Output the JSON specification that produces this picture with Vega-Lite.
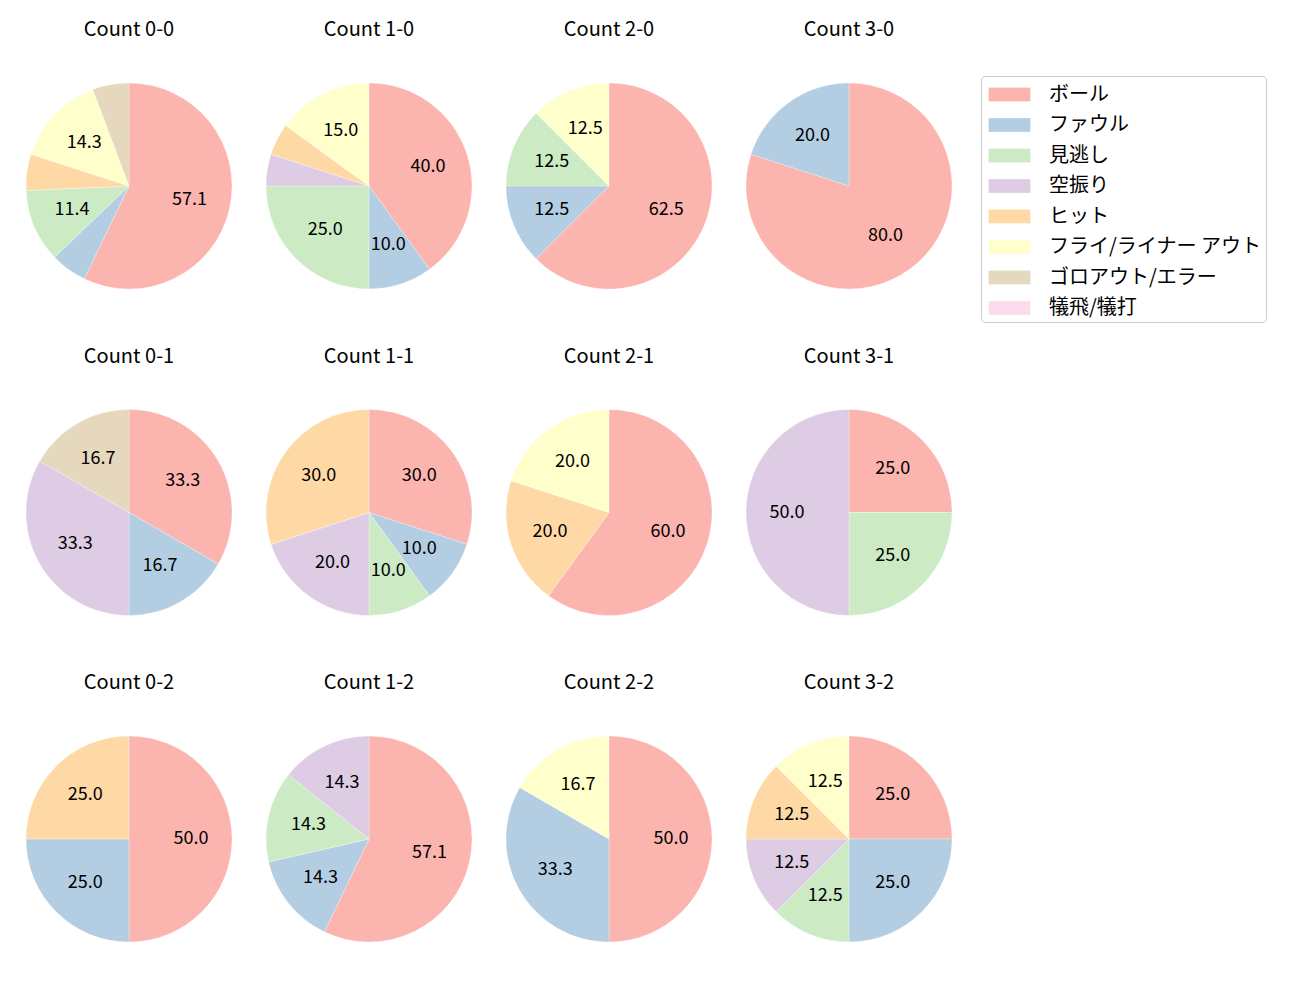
{
  "$schema": "https://vega.github.io/schema/vega-lite/v6.json",
  "padding": {"left": 25, "top": 20, "right": 5, "bottom": 5},
  "background": "white",
  "config": {
    "font": "Noto Sans CJK JP",
    "view": {"stroke": null},
    "arc": {"stroke": "white", "strokeWidth": 0.3}
  },
  "data": {"values": [
    {"c": "Count 0-0", "o": 1, "t": "ボール", "k": 1, "p": 57.14},
    {"c": "Count 0-0", "o": 1, "t": "ファウル", "k": 2, "p": 5.71},
    {"c": "Count 0-0", "o": 1, "t": "見逃し", "k": 3, "p": 11.43},
    {"c": "Count 0-0", "o": 1, "t": "ヒット", "k": 5, "p": 5.71},
    {"c": "Count 0-0", "o": 1, "t": "フライ/ライナー アウト", "k": 6, "p": 14.29},
    {"c": "Count 0-0", "o": 1, "t": "ゴロアウト/エラー", "k": 7, "p": 5.71},
    {"c": "Count 1-0", "o": 2, "t": "ボール", "k": 1, "p": 40.0},
    {"c": "Count 1-0", "o": 2, "t": "ファウル", "k": 2, "p": 10.0},
    {"c": "Count 1-0", "o": 2, "t": "見逃し", "k": 3, "p": 25.0},
    {"c": "Count 1-0", "o": 2, "t": "空振り", "k": 4, "p": 5.0},
    {"c": "Count 1-0", "o": 2, "t": "ヒット", "k": 5, "p": 5.0},
    {"c": "Count 1-0", "o": 2, "t": "フライ/ライナー アウト", "k": 6, "p": 15.0},
    {"c": "Count 2-0", "o": 3, "t": "ボール", "k": 1, "p": 62.5},
    {"c": "Count 2-0", "o": 3, "t": "ファウル", "k": 2, "p": 12.5},
    {"c": "Count 2-0", "o": 3, "t": "見逃し", "k": 3, "p": 12.5},
    {"c": "Count 2-0", "o": 3, "t": "フライ/ライナー アウト", "k": 6, "p": 12.5},
    {"c": "Count 3-0", "o": 4, "t": "ボール", "k": 1, "p": 80.0},
    {"c": "Count 3-0", "o": 4, "t": "ファウル", "k": 2, "p": 20.0},
    {"c": "Count 0-1", "o": 5, "t": "ボール", "k": 1, "p": 33.33},
    {"c": "Count 0-1", "o": 5, "t": "ファウル", "k": 2, "p": 16.67},
    {"c": "Count 0-1", "o": 5, "t": "空振り", "k": 4, "p": 33.33},
    {"c": "Count 0-1", "o": 5, "t": "ゴロアウト/エラー", "k": 7, "p": 16.67},
    {"c": "Count 1-1", "o": 6, "t": "ボール", "k": 1, "p": 30.0},
    {"c": "Count 1-1", "o": 6, "t": "ファウル", "k": 2, "p": 10.0},
    {"c": "Count 1-1", "o": 6, "t": "見逃し", "k": 3, "p": 10.0},
    {"c": "Count 1-1", "o": 6, "t": "空振り", "k": 4, "p": 20.0},
    {"c": "Count 1-1", "o": 6, "t": "ヒット", "k": 5, "p": 30.0},
    {"c": "Count 2-1", "o": 7, "t": "ボール", "k": 1, "p": 60.0},
    {"c": "Count 2-1", "o": 7, "t": "ヒット", "k": 5, "p": 20.0},
    {"c": "Count 2-1", "o": 7, "t": "フライ/ライナー アウト", "k": 6, "p": 20.0},
    {"c": "Count 3-1", "o": 8, "t": "ボール", "k": 1, "p": 25.0},
    {"c": "Count 3-1", "o": 8, "t": "見逃し", "k": 3, "p": 25.0},
    {"c": "Count 3-1", "o": 8, "t": "空振り", "k": 4, "p": 50.0},
    {"c": "Count 0-2", "o": 9, "t": "ボール", "k": 1, "p": 50.0},
    {"c": "Count 0-2", "o": 9, "t": "ファウル", "k": 2, "p": 25.0},
    {"c": "Count 0-2", "o": 9, "t": "ヒット", "k": 5, "p": 25.0},
    {"c": "Count 1-2", "o": 10, "t": "ボール", "k": 1, "p": 57.14},
    {"c": "Count 1-2", "o": 10, "t": "ファウル", "k": 2, "p": 14.29},
    {"c": "Count 1-2", "o": 10, "t": "見逃し", "k": 3, "p": 14.29},
    {"c": "Count 1-2", "o": 10, "t": "空振り", "k": 4, "p": 14.29},
    {"c": "Count 2-2", "o": 11, "t": "ボール", "k": 1, "p": 50.0},
    {"c": "Count 2-2", "o": 11, "t": "ファウル", "k": 2, "p": 33.33},
    {"c": "Count 2-2", "o": 11, "t": "フライ/ライナー アウト", "k": 6, "p": 16.67},
    {"c": "Count 3-2", "o": 12, "t": "ボール", "k": 1, "p": 25.0},
    {"c": "Count 3-2", "o": 12, "t": "ファウル", "k": 2, "p": 25.0},
    {"c": "Count 3-2", "o": 12, "t": "見逃し", "k": 3, "p": 12.5},
    {"c": "Count 3-2", "o": 12, "t": "空振り", "k": 4, "p": 12.5},
    {"c": "Count 3-2", "o": 12, "t": "ヒット", "k": 5, "p": 12.5},
    {"c": "Count 3-2", "o": 12, "t": "フライ/ライナー アウト", "k": 6, "p": 12.5}
  ]},
  "facet": {
    "field": "c",
    "type": "nominal",
    "sort": {"field": "o", "op": "min"},
    "title": null,
    "header": {"labelFontSize": 20, "labelColor": "#000000", "labelPadding": 42, "labelFont": "Noto Sans CJK JP"}
  },
  "columns": 4,
  "spacing": {"row": 56.5, "column": 32},
  "spec": {
    "width": 206,
    "height": 206,
    "encoding": {
      "theta": {"field": "p", "type": "quantitative", "stack": true},
      "order": {"field": "k", "type": "quantitative", "sort": "ascending"}
    },
    "layer": [
      {
        "mark": {"type": "arc"},
        "encoding": {
          "color": {
            "field": "t",
            "type": "nominal",
            "title": null,
            "scale": {
              "domain": ["ボール", "ファウル", "見逃し", "空振り", "ヒット", "フライ/ライナー アウト", "ゴロアウト/エラー", "犠飛/犠打"],
              "range": ["#fbb4ae", "#b3cde3", "#ccebc5", "#decbe4", "#fed9a6", "#ffffcc", "#e5d8bd", "#fddaec"]
            },
            "legend": {
              "orient": "none",
              "legendX": 955,
              "legendY": -7,
              "padding": 4,
              "strokeColor": "#cccccc",
              "cornerRadius": 4,
              "fillColor": "white",
              "symbolType": "M-0.786,-0.5H2.214V0.5H-0.786Z",
              "symbolSize": 784,
              "symbolStrokeWidth": 0,
              "symbolOpacity": 1,
              "labelFontSize": 20,
              "labelColor": "#000000",
              "labelOffset": 35,
              "labelLimit": 400,
              "rowPadding": 5.5,
              "labelFont": "Noto Sans CJK JP"
            }
          }
        }
      },
      {
        "mark": {"type": "text", "radius": 62, "fontSize": 18, "color": "#000000"},
        "encoding": {
          "text": {
            "condition": {"test": "datum.p < 10", "value": ""},
            "field": "p",
            "type": "quantitative",
            "format": ".1f"
          }
        }
      }
    ]
  }
}
